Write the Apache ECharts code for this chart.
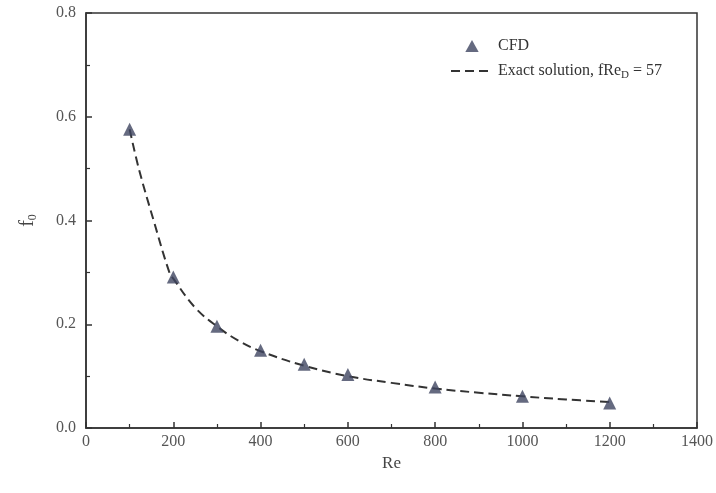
<!DOCTYPE html>
<html>
<head>
<meta charset="utf-8">
<script src="https://cdn.jsdelivr.net/npm/echarts@6/dist/echarts.min.js"></script>
<style>html,body{margin:0;padding:0;background:#fff}#c{width:716px;height:493px}</style>
</head>
<body>
<div id="c"></div>
<script>
// CFD results
const cfdRe = [100, 200, 300, 400, 500, 600, 800, 1000, 1200];
const cfdF  = [0.576, 0.291, 0.196, 0.150, 0.123, 0.103, 0.079, 0.061, 0.048];
// Exact solution curve points
const exactRe = [100, 121, 155, 191, 200, 250, 300, 350, 400, 500, 600, 700, 800, 900, 1000, 1100, 1200];
const exactF  = [0.576, 0.500, 0.400, 0.300, 0.288, 0.232, 0.196, 0.168, 0.148, 0.120, 0.100, 0.087, 0.076, 0.068, 0.061, 0.055, 0.050];
const xTicks = [0, 200, 400, 600, 800, 1000, 1200, 1400];
const yTicks = [0.0, 0.2, 0.4, 0.6, 0.8];

const FONT = 'Liberation Serif';
const chart = echarts.init(document.getElementById('c'));
const axisCol = '#333';
const markCol = '#3f4560';
chart.setOption({
  animation: false,
  backgroundColor: '#fff',
  grid: { left: 86, right: 18, top: 13, bottom: 65, show: true, borderColor: axisCol, borderWidth: 1.5, backgroundColor: 'transparent' },
  legend: {
    orient: 'vertical', left: 445, top: 33, itemWidth: 42, itemHeight: 12, itemGap: 9,
    textStyle: { fontFamily: FONT, fontSize: 16, color: '#333',
      rich: { n: { fontFamily: FONT, fontSize: 16, color: '#333' }, s: { fontFamily: FONT, fontSize: 11, color: '#333', verticalAlign: 'bottom', padding: [8, 0, 0, 0] } } },
    formatter: function (name) {
      if (name === 'CFD') return '{n|CFD}';
      return '{n|Exact solution, fRe}{s|D}{n| = 57}';
    },
    data: [
      { name: 'CFD', icon: 'path://M5,0 L10,9 L0,9 Z', itemStyle: { color: markCol } },
      { name: 'Exact', itemStyle: { opacity: 0 } }
    ]
  },
  xAxis: {
    type: 'value', min: xTicks[0], max: xTicks[xTicks.length - 1], interval: 200,
    name: 'Re', nameLocation: 'middle', nameGap: 22,
    nameTextStyle: { fontFamily: FONT, fontSize: 17, color: '#444' },
    axisLine: { show: true, lineStyle: { color: axisCol, width: 1.5 } },
    axisTick: { show: true, inside: true, length: 6, lineStyle: { color: axisCol, width: 1.5 } },
    minorTick: { show: true, splitNumber: 2, length: 4, lineStyle: { color: axisCol, width: 1.2 } },
    axisLabel: { fontFamily: FONT, fontSize: 16, color: '#555', margin: 6, formatter: v => String(v) },
    splitLine: { show: false }
  },
  yAxis: {
    type: 'value', min: yTicks[0], max: yTicks[yTicks.length - 1], interval: 0.2,
    name: '{a|f}{b|0}', nameLocation: 'middle', nameGap: 47, nameRotate: 90,
    nameTextStyle: { fontFamily: FONT, fontSize: 20, color: '#444',
      rich: { a: { fontFamily: FONT, fontSize: 20, color: '#444' }, b: { fontFamily: FONT, fontSize: 12, color: '#444', verticalAlign: 'bottom', padding: [10, 0, 0, 0] } } },
    axisLine: { show: true, lineStyle: { color: axisCol, width: 1.5 } },
    axisTick: { show: true, inside: true, length: 6, lineStyle: { color: axisCol, width: 1.5 } },
    minorTick: { show: true, splitNumber: 2, length: 4, lineStyle: { color: axisCol, width: 1.2 } },
    axisLabel: { fontFamily: FONT, fontSize: 16, color: '#555', margin: 10, formatter: v => v.toFixed(1) },
    splitLine: { show: false }
  },
  series: [
    {
      name: 'Exact', type: 'line', smooth: 0.4, symbol: 'none', showSymbol: false,
      data: exactRe.map((r, i) => [r, exactF[i]]),
      lineStyle: { color: '#333', width: 2, type: [9, 5] },
      itemStyle: { color: '#333' },
      z: 2
    },
    {
      name: 'CFD', type: 'scatter', symbol: 'triangle', symbolSize: 13,
      data: cfdRe.map((r, i) => [r, cfdF[i]]),
      itemStyle: { color: markCol },
      z: 3
    }
  ]
});
</script>
</body>
</html>
